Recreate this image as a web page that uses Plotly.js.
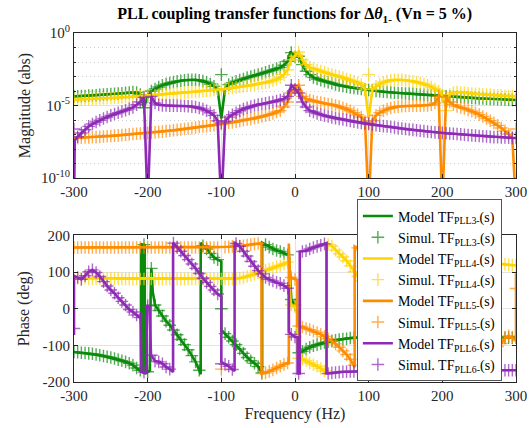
<!DOCTYPE html>
<html><head><meta charset="utf-8">
<script src="https://cdn.plot.ly/plotly-3.0.1.min.js"></script>
<style>html,body{margin:0;padding:0;background:#fff}#chart{width:529px;height:428px}</style>
</head><body><div id="chart"></div>
<script>
// Frequency grid of the simulated points (Hz)
const freq = [
 -300,-295,-290,-285,-280,-275,-270,-265,-260,-255,
 -250,-245,-240,-235,-230,-225,-220,-215,-210,-205,
 -200,-195,-190,-185,-180,-175,-170,-165,-160,-155,
 -150,-145,-140,-135,-130,-125,-120,-115,-110,-105,
 -100,-95,-90,-85,-80,-75,-70,-65,-60,-55,
 -50,-45,-40,-35,-30,-25,-20,-15,-10,-5,
 0,5,10,15,20,25,30,35,40,45,
 50,55,60,65,70,75,80,85,90,95,
 100,105,110,115,120,125,130,135,140,145,
 150,155,160,165,170,175,180,185,190,195,
 200,205,210,215,220,225,230,235,240,245,
 250,255,260,265,270,275,280,285,290,295,
 300];

// Magnitude, log10(|TF|), simulated points
const magPLL3 = [
 -4.37,-4.36,-4.35,-4.34,-4.32,-4.31,-4.29,-4.27,-4.25,-4.23,
 -4.21,-4.19,-4.18,-4.15,-4.12,-4.10,-4.07,-4.10,-4.25,-5.15,
 -4.35,-4.00,-3.86,-3.72,-3.60,-3.52,-3.45,-3.38,-3.33,-3.29,
 -3.26,-3.23,-3.22,-3.23,-3.26,-3.32,-3.40,-3.52,-3.68,-3.90,
 -2.87,-3.86,-3.56,-3.43,-3.33,-3.25,-3.17,-3.08,-3.00,-2.93,
 -2.87,-2.79,-2.71,-2.63,-2.55,-2.46,-2.37,-2.22,-1.95,-1.35,
 -1.65,-1.60,-2.18,-2.64,-2.87,-3.06,-3.17,-3.25,-3.33,-3.40,
 -3.47,-3.54,-3.60,-3.65,-3.70,-3.75,-3.79,-3.82,-3.86,-3.89,
 -3.93,-3.96,-3.99,-4.02,-4.05,-4.07,-4.10,-4.12,-4.14,-4.16,
 -4.17,-4.18,-4.20,-4.22,-4.24,-4.26,-4.28,-4.30,-4.31,-4.32,
 -4.34,-4.36,-4.37,-4.38,-4.40,-4.41,-4.43,-4.45,-4.48,-4.49,
 -4.51,-4.52,-4.53,-4.54,-4.55,-4.56,-4.57,-4.58,-4.60,-4.61,
 -4.62];
const magPLL4 = [
 -4.60,-4.59,-4.58,-4.56,-4.55,-4.54,-4.53,-4.51,-4.50,-4.49,
 -4.48,-4.47,-4.46,-4.44,-4.42,-4.41,-4.39,-4.37,-4.36,-4.34,
 -4.32,-4.30,-4.29,-4.27,-4.25,-4.23,-4.21,-4.19,-4.16,-4.14,
 -4.12,-4.10,-4.07,-4.05,-4.03,-4.00,-3.98,-3.96,-3.93,-3.91,
 -3.89,-3.86,-3.82,-3.79,-3.75,-3.71,-3.67,-3.64,-3.60,-3.55,
 -3.50,-3.47,-3.43,-3.37,-3.29,-3.19,-3.06,-2.87,-2.53,-1.84,
 -1.60,-1.31,-1.84,-2.18,-2.37,-2.46,-2.55,-2.63,-2.71,-2.79,
 -2.87,-2.93,-3.00,-3.08,-3.17,-3.25,-3.33,-3.43,-3.56,-3.86,
 -2.87,-3.90,-3.68,-3.52,-3.40,-3.32,-3.26,-3.23,-3.22,-3.23,
 -3.26,-3.29,-3.33,-3.38,-3.45,-3.52,-3.60,-3.72,-3.86,-4.00,
 -4.35,-5.35,-4.25,-4.10,-4.07,-4.10,-4.12,-4.15,-4.18,-4.19,
 -4.21,-4.23,-4.25,-4.27,-4.29,-4.31,-4.32,-4.34,-4.35,-4.36,
 -4.37];
const magPLL5 = [
 -7.24,-7.23,-7.22,-7.21,-7.20,-7.19,-7.18,-7.16,-7.14,-7.12,
 -7.10,-7.08,-7.06,-7.04,-7.02,-6.99,-6.97,-6.95,-6.93,-6.91,
 -6.89,-6.87,-6.85,-6.83,-6.80,-6.77,-6.74,-6.71,-6.68,-6.65,
 -6.62,-6.59,-6.56,-6.52,-6.48,-6.45,-6.42,-6.39,-6.35,-6.32,
 -6.28,-6.24,-6.20,-6.16,-6.11,-6.06,-6.01,-5.97,-5.93,-5.88,
 -5.82,-5.76,-5.70,-5.63,-5.55,-5.45,-5.35,-5.10,-4.76,-4.14,
 -3.90,-3.60,-4.37,-4.53,-4.62,-4.69,-4.76,-4.80,-4.85,-4.90,
 -4.94,-5.00,-5.08,-5.16,-5.24,-5.36,-5.50,-5.64,-5.80,-6.10,
 -6.20,-6.05,-5.68,-5.50,-5.36,-5.25,-5.17,-5.10,-5.08,-5.05,
 -5.03,-5.02,-5.01,-5.01,-5.01,-5.00,-4.99,-4.95,-4.83,-4.37,
 null,-4.44,-4.76,-4.95,-5.06,-5.13,-5.20,-5.30,-5.40,-5.50,
 -5.63,-5.76,-5.90,-6.05,-6.20,-6.37,-6.55,-6.75,-6.97,-7.24,
 -6.62];
const magPLL6 = [
 -6.62,-7.15,-6.90,-6.67,-6.44,-6.28,-6.14,-6.02,-5.90,-5.79,
 -5.68,-5.59,-5.50,-5.41,-5.33,-5.23,-5.13,-4.95,-4.76,-4.44,
 null,-4.37,-4.83,-4.95,-4.99,-5.00,-5.01,-5.01,-5.01,-5.02,
 -5.03,-5.05,-5.08,-5.10,-5.17,-5.25,-5.36,-5.50,-5.68,-6.05,
 -6.20,-6.10,-5.80,-5.64,-5.50,-5.36,-5.24,-5.16,-5.08,-5.00,
 -4.94,-4.90,-4.85,-4.80,-4.76,-4.69,-4.62,-4.53,-4.37,-3.60,
 -3.90,-4.14,-4.76,-5.10,-5.35,-5.45,-5.55,-5.63,-5.70,-5.76,
 -5.82,-5.88,-5.93,-5.97,-6.01,-6.06,-6.11,-6.16,-6.20,-6.24,
 -6.28,-6.32,-6.35,-6.39,-6.42,-6.45,-6.48,-6.52,-6.56,-6.59,
 -6.62,-6.65,-6.68,-6.71,-6.74,-6.77,-6.80,-6.83,-6.85,-6.87,
 -6.89,-6.91,-6.93,-6.95,-6.97,-6.99,-7.02,-7.04,-7.06,-7.08,
 -7.10,-7.12,-7.14,-7.16,-7.18,-7.19,-7.20,-7.21,-7.22,-7.23,
 -7.24];

// Model curve points that differ from / add to the simulated grid: [freq, log10 mag]
const magPLL3Model = [[-100,-5.9],[-6,-1.27]];
const magPLL4Model = [[100,-5.9],[205,-5.15]];
const magPLL5Model = [[100,-12],[200,-12],[300,-12]];
const magPLL6Model = [[-300,-12],[-299,-7.4],[-200,-12],[-100,-12]];

// Phase (deg), simulated points
const phPLL3 = [
 -118,-119,-120,-121,-122,-123,-125,-127,-129,-131,
 -133,-136,-139,-142,-145,-149,-154,-162,-168,175,
 -172,110,10,-5,-20,-34,-45,-58,-71,-84,
 -98,-112,-128,-145,-168,172,163,151,140,134,
 0,-68,-78,-88,-98,-110,-122,-133,-142,-149,
 -158,-175,175,168,163,159,156,151,147,25,
 10,-120,-116,-110,-105,-101,-98,-95,-92,-90,
 -88,-86,-84,-83,-82,-80,-79,-79,-79,-79,
 -79,-79,-80,-80,-80,-80,-80,-80,-80,-80,
 -80,-80,-80,-80,-80,-80,-80,-80,-80,-80,
 -80,-80,-80,-80,-80,-80,-80,-80,-80,-80,
 -80,-80,-80,-80,-80,-80,-80,-79,-79,-79,
 -79];
const phPLL4 = [
 83,83,83,83,82,82,82,82,82,82,
 82,82,82,81,81,81,81,81,81,81,
 81,81,81,81,81,81,81,81,81,81,
 81,81,81,81,81,81,81,81,81,81,
 81,81,81,81,82,83,85,88,91,94,
 98,102,105,108,111,115,118,122,127,10,
 5,-135,-138,-142,-148,-153,-157,-163,-170,176,
 171,160,150,141,131,117,101,88,76,68,
 60,-133,-145,-157,-165,-172,168,145,128,112,
 98,84,71,58,45,34,20,5,-10,-110,
 172,-175,168,162,154,149,145,142,139,136,
 133,131,129,127,125,123,122,121,120,119,
 118];
const phPLL5 = [
 167,167,167,167,167,167,167,167,167,167,
 167,167,167,167,167,167,167,167,167,167,
 167,167,167,167,167,167,167,167,167,167,
 167,167,167,167,167,167,167,167,167,167,
 -165,168,169,170,170,171,172,174,175,176,
 178,-177,-175,-171,-167,-162,-157,-152,-148,85,
 80,-47,-50,-54,-57,-61,-65,-70,-76,-82,
 -88,-96,-105,-115,-125,-138,-154,166,160,152,
 145,-42,-55,-65,-75,-83,-97,-112,-125,-135,
 -145,-157,-168,175,165,155,146,143,141,127,
 -10,173,25,17,10,2,-10,-20,-30,-40,
 -51,-62,-74,-87,-97,-103,-95,-80,-74,-80,
 55];
const phPLL6 = [
 -54,85,80,90,101,106,99,88,74,62,
 51,42,30,20,10,-2,-9,-17,-24,-173,
 8,-127,-143,-145,-150,-159,-165,179,168,157,
 145,134,122,110,96,83,72,61,51,40,
 -150,-152,-157,-166,178,170,157,144,129,116,
 104,95,85,80,76,72,69,63,56,-70,
 -77,-177,156,158,163,167,170,173,177,-177,
 -175,-174,-173,-172,-172,-171,-171,-171,-170,-170,
 -170,-170,-170,-170,-170,-170,-170,-170,-170,-170,
 -170,-170,-169,-169,-169,-169,-169,-169,-169,-169,
 -169,-169,-169,-169,-169,-169,-169,-169,-169,-169,
 -168,-168,-168,-168,-168,-168,-168,-168,-168,-168,
 -168];

// Model phase points (wraps and steps): [freq, deg]
const phPLL3Model = [[-209.2,-171],[-209,178],[-207.2,172],[-207,-176],[-205.6,-174],[-205.4,178],[-204,172],[-203.8,-178],
 [-197,-168],[-196,30],[-193,45],[-128,-179],[-128,180],[-100,129],[-100,-58],[-44.6,-177],[-44.6,180],
 [-8,140],[-6,28],[3,0],[4,-118]];
const phPLL4Model = [[-8,133],[-6,10],[3,-5],[4,-133],[42.8,-176],[42.8,180],[100,58],[100,-129],[128,-179],[128,180],
 [193,-60],[196,-172],[197.5,170],[203.8,178],[204,-178],[205.4,-176],[205.6,175],[207,176],[207.2,-172],[209,-178],[209.2,171]];
const phPLL5Model = [[-100,167],[-45.5,179],[-45.5,-177],[-8.4,-147],[-8.4,178],[-7,90],[3.2,78],[3.2,-45],
 [81,-160],[81,170],[100,145],[100,-33],[164.5,-179],[164.5,176],[300,-88],[300,97]];
const phPLL6Model = [[-300,-72],[-300,90],[-209.5,-26],[-208.5,-172],[-201.2,-173],[-201,10],[-197.5,5],[-195.5,-125],
 [-165.5,-173],[-165.5,180],[-100,33],[-100,-145],[-82,-170],[-82,180],[-8.4,54],[-8.4,-63],
 [3.5,-78],[3.5,-177],[6.5,-177],[6.5,156],[42.8,179],[42.8,-177]];

const names = ['PLL3-','PLL4-','PLL5-','PLL6-'];
const colors = ['#0a8a0a','#ffd400','#ff8c00','#8e2ab6'];
const mags = [magPLL3, magPLL4, magPLL5, magPLL6];
const magModels = [magPLL3Model, magPLL4Model, magPLL5Model, magPLL6Model];
const phs = [phPLL3, phPLL4, phPLL5, phPLL6];
const phModels = [phPLL3Model, phPLL4Model, phPLL5Model, phPLL6Model];

function buildModel(f, v, extra) {
  const exF = new Set(extra.map(p => p[0]));
  const pts = [];
  f.forEach((x, i) => { if (!exF.has(x) && v[i] !== null) pts.push({x: x, y: v[i], k: 0, i: i}); });
  extra.forEach((p, j) => pts.push({x: p[0], y: p[1], k: 1, i: j}));
  pts.sort((a, b) => (a.x - b.x) || (a.k - b.k) || (a.i - b.i));
  return {x: pts.map(p => p.x), y: pts.map(p => p.y)};
}
const pow10 = a => a.map(v => v === null ? null : Math.pow(10, v));

function markerStyle(c) {
  return {symbol: 'cross-thin', size: 9, color: c, opacity: 0.7, line: {color: c, width: 1.4}};
}
const traces = [];
for (let k = 0; k < 4; k++) {
  const m = buildModel(freq, mags[k], magModels[k]);
  traces.push({x: m.x, y: pow10(m.y), xaxis: 'x', yaxis: 'y', mode: 'lines',
    line: {color: colors[k], width: 2.6}, showlegend: false, hoverinfo: 'skip'});
  traces.push({x: freq, y: pow10(mags[k]), xaxis: 'x', yaxis: 'y', mode: 'markers',
    marker: markerStyle(colors[k]), showlegend: false, hoverinfo: 'skip'});
}
for (let k = 0; k < 4; k++) {
  const m = buildModel(freq, phs[k], phModels[k]);
  traces.push({x: m.x, y: m.y, xaxis: 'x2', yaxis: 'y2', mode: 'lines',
    name: 'Model TF<sub>' + names[k] + '</sub>(s)',
    line: {color: colors[k], width: 2.6}, hoverinfo: 'skip'});
  traces.push({x: freq, y: phs[k], xaxis: 'x2', yaxis: 'y2', mode: 'markers',
    name: 'Simul. TF<sub>' + names[k] + '</sub>(s)',
    marker: markerStyle(colors[k]), hoverinfo: 'skip'});
}

const FONT = 'Liberation Serif';
const AX = '#262626';
const xticks = [-300,-200,-100,0,100,200,300];
const baseX = {range: [-300, 300], tickvals: xticks, ticktext: xticks.map(String),
  showline: true, linecolor: AX, linewidth: 1, mirror: 'ticks', ticks: 'inside', ticklen: 4, tickcolor: AX,
  showgrid: true, gridcolor: '#e3e3e3', gridwidth: 1, zeroline: false,
  tickfont: {family: FONT, size: 15, color: AX}};

const layout = {
  width: 529, height: 428,
  margin: {l: 74, r: 13, t: 33, b: 46},
  paper_bgcolor: '#fff', plot_bgcolor: '#fff',
  font: {family: FONT, color: AX},
  title: {text: '<b>PLL coupling transfer functions for Δ<i>θ</i><sub>1-</sub> (Vn = 5 %)</b>',
    font: {family: FONT, size: 16, color: '#000'}, x: 0.557, xanchor: 'center', y: 0.968, yanchor: 'middle', yref: 'container'},
  xaxis: Object.assign({}, baseX, {anchor: 'y', domain: [0, 1]}),
  yaxis: {type: 'log', range: [-10, 0], domain: [0.5845, 1], anchor: 'x',
    tickvals: [1e-10, 1e-5, 1], ticktext: ['10<sup>-10</sup>', '10<sup>-5</sup>', '10<sup>0</sup>'],
    showline: true, linecolor: AX, linewidth: 1, mirror: 'ticks', ticks: 'inside', ticklen: 4, tickcolor: AX,
    showgrid: true, gridcolor: '#e3e3e3', zeroline: false,
    minor: {tickvals: [1e-9,1e-8,1e-7,1e-6,1e-4,1e-3,1e-2,1e-1], ticks: 'inside', ticklen: 2, tickcolor: AX,
      showgrid: true, gridcolor: '#cfcfcf', griddash: '1px,3px', gridwidth: 1},
    tickfont: {family: FONT, size: 15, color: AX},
    title: {text: 'Magnitude (abs)', font: {family: FONT, size: 16, color: AX}, standoff: 6}},
  xaxis2: Object.assign({}, baseX, {anchor: 'y2', domain: [0, 1],
    title: {text: 'Frequency (Hz)', font: {family: FONT, size: 16, color: AX}, standoff: 4}}),
  yaxis2: {range: [-200, 200], domain: [0, 0.42], anchor: 'x2',
    tickvals: [-200,-100,0,100,200], ticktext: ['-200','-100','0','100','200'],
    showline: true, linecolor: AX, linewidth: 1, mirror: 'ticks', ticks: 'inside', ticklen: 4, tickcolor: AX,
    showgrid: true, gridcolor: '#e3e3e3', zeroline: false,
    tickfont: {family: FONT, size: 15, color: AX},
    title: {text: 'Phase (deg)', font: {family: FONT, size: 16, color: AX}, standoff: 8}},
  legend: {x: 0.64, y: 0.523, xanchor: 'left', yanchor: 'top', xref: 'paper', yref: 'paper',
    bgcolor: '#fff', bordercolor: '#555', borderwidth: 1,
    font: {family: FONT, size: 14, color: '#000'}, tracegroupgap: 0, itemwidth: 30},
  showlegend: true
};

Plotly.newPlot('chart', traces, layout, {staticPlot: true, displayModeBar: false});
</script></body></html>
